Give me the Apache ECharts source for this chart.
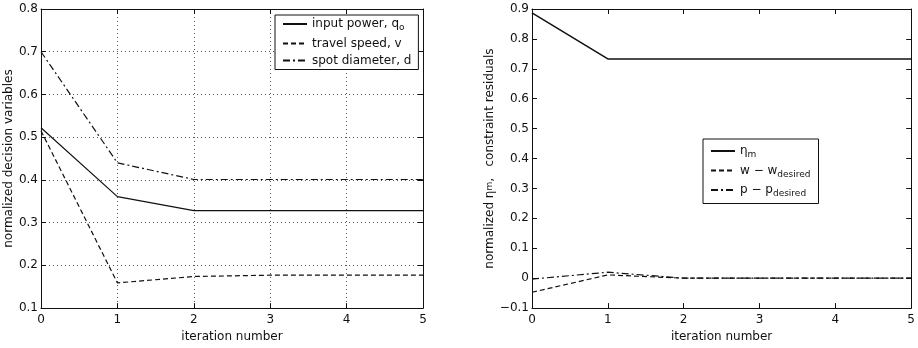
<!DOCTYPE html>
<html><head><meta charset="utf-8">
<script src="https://cdn.jsdelivr.net/npm/echarts@6/dist/echarts.min.js"></script>
<style>html,body{margin:0;padding:0;background:#fff}#c{width:918px;height:348px}</style>
</head><body><div id="c"></div>
<script>
const iterations = [0, 1, 2, 3, 4, 5];
const inputPower = [0.522, 0.361, 0.328, 0.328, 0.328, 0.328];
const travelSpeed = [0.515, 0.159, 0.174, 0.177, 0.177, 0.177];
const spotDiameter = [0.700, 0.440, 0.401, 0.401, 0.401, 0.401];
const etaM = [0.887, 0.733, 0.733, 0.733, 0.733, 0.733];
const wResidual = [-0.047, 0.011, 0.000, 0.000, 0.000, 0.000];
const pResidual = [-0.003, 0.020, 0.000, 0.000, 0.000, 0.000];
const leftTicks = [0.1, 0.8, 0.1];
const rightTicks = [-0.1, 0.9, 0.1];

const pair = (ys) => iterations.map((x, i) => [x, ys[i]]);
const FONT = 'DejaVu Sans';
const dashDot = [7, 3, 2, 3];
const dashed = [5, 3];

function xAxes(gi, showGrid) {
  return [{
    type: 'value', gridIndex: gi, min: 0, max: 5, interval: 1, position: 'bottom',
    name: 'iteration number', nameLocation: 'middle', nameGap: 20,
    nameTextStyle: {fontFamily: FONT, fontSize: 12, color: '#111'},
    axisLine: {show: true, onZero: false, lineStyle: {color: '#111', width: 1}},
    axisTick: {show: true, inside: true, length: 5, lineStyle: {color: '#111'}},
    axisLabel: {fontFamily: FONT, fontSize: 12, color: '#111', margin: 6},
    splitLine: {show: showGrid, lineStyle: {type: [1, 3], color: '#555', width: 1}}
  }, {
    type: 'value', gridIndex: gi, min: 0, max: 5, interval: 1, position: 'top',
    axisLine: {show: true, onZero: false, lineStyle: {color: '#111', width: 1}},
    axisTick: {show: true, inside: true, length: 5, lineStyle: {color: '#111'}},
    axisLabel: {show: false}, splitLine: {show: false}
  }];
}
function yAxes(gi, ticks, name, gap, showGrid, rich) {
  return [{
    type: 'value', gridIndex: gi, min: ticks[0], max: ticks[1], interval: ticks[2], position: 'left',
    name: name, nameLocation: 'middle', nameGap: gap, nameRotate: 90,
    nameTextStyle: {fontFamily: FONT, fontSize: 12, color: '#111', rich: rich},
    axisLine: {show: true, onZero: false, lineStyle: {color: '#111', width: 1}},
    axisTick: {show: true, inside: true, length: 5, lineStyle: {color: '#111'}},
    axisLabel: {fontFamily: FONT, fontSize: 12, color: '#111', margin: 3,
      formatter: v => { const r = Math.round(v * 10) / 10; return r === 0 ? '0' : (r < 0 ? '\u2212' + Math.abs(r).toFixed(1) : r.toFixed(1)); }},
    splitLine: {show: showGrid, lineStyle: {type: [1, 3], color: '#555', width: 1}}
  }, {
    type: 'value', gridIndex: gi, min: ticks[0], max: ticks[1], interval: ticks[2], position: 'right',
    axisLine: {show: true, onZero: false, lineStyle: {color: '#111', width: 1}},
    axisTick: {show: true, inside: true, length: 5, lineStyle: {color: '#111'}},
    axisLabel: {show: false}, splitLine: {show: false}
  }];
}
function line(name, data, xi, yi, type, w) {
  return {name, type: 'line', xAxisIndex: xi, yAxisIndex: yi, data: pair(data), symbol: 'none',
    lineStyle: {color: '#111', width: w || 1.2, type: type}, itemStyle: {color: '#111'},
    animation: false, z: 3};
}
const subRich = {
  sub: {fontFamily: FONT, fontSize: 9, color: '#111', padding: [8, 0, 0, 0]}
};
const legendBase = {
  orient: 'vertical',
  backgroundColor: '#fff', borderColor: '#111', borderWidth: 1,
  itemWidth: 24, itemHeight: 10,
  itemStyle: {opacity: 0},
  textStyle: {fontFamily: FONT, fontSize: 12, color: '#111', rich: subRich}
};
const chart = echarts.init(document.getElementById('c'));
chart.setOption({
  animation: false,
  grid: [
    {left: 41, right: 495, top: 9, bottom: 35, show: false},
    {left: 532, right: 4, top: 9, bottom: 36, show: false}
  ],
  xAxis: [...xAxes(0, true), ...xAxes(1, false)],
  yAxis: [...yAxes(0, leftTicks, 'normalized decision variables', 24, true, {}),
          ...yAxes(1, rightTicks, 'normalized \u03B7{sub|m},   constraint residuals', 32, false,
            {sub: {fontFamily: FONT, fontSize: 9, color: '#111'}})],
  legend: [Object.assign({}, legendBase, {
    data: ['input power', 'travel speed', 'spot diameter'],
    left: 275, top: 15, padding: [3, 7, 3, 7], itemGap: 5,
    formatter: n => n === 'input power' ? 'input power, q{sub|o}' : (n === 'travel speed' ? 'travel speed, v' : 'spot diameter, d')
  }), Object.assign({}, legendBase, {
    data: ['eta', 'w', 'p'],
    left: 703, top: 139, padding: [6, 8, 5, 7], itemGap: 5,
    formatter: n => n === 'eta' ? '\u03B7{sub|m}' : (n === 'w' ? 'w \u2212 w{sub|desired}' : 'p \u2212 p{sub|desired}')
  })],
  series: [
    line('input power', inputPower, 0, 0, 'solid'),
    line('travel speed', travelSpeed, 0, 0, dashed),
    line('spot diameter', spotDiameter, 0, 0, dashDot),
    line('eta', etaM, 2, 2, 'solid', 1.5),
    line('w', wResidual, 2, 2, dashed),
    line('p', pResidual, 2, 2, dashDot)
  ]
});
</script></body></html>
